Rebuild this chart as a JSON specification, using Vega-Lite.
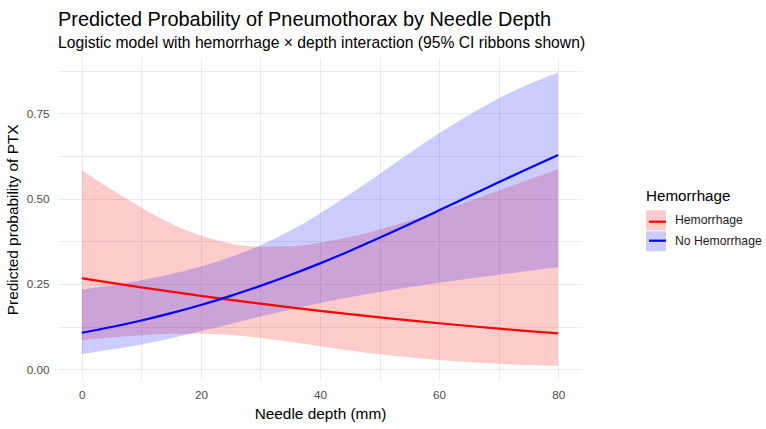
{
  "$schema": "https://vega.github.io/schema/vega-lite/v6.json",
  "width": 524,
  "height": 322.6,
  "autosize": {"type": "none"},
  "padding": {"left": 58, "top": 58, "right": 184, "bottom": 48.4},
  "background": "white",
  "title": {
    "text": "Predicted Probability of Pneumothorax by Needle Depth",
    "subtitle": "Logistic model with hemorrhage × depth interaction (95% CI ribbons shown)",
    "anchor": "start",
    "frame": "group",
    "font": "Liberation Sans",
    "fontSize": 19.9,
    "fontWeight": "normal",
    "color": "#000000",
    "subtitleFont": "Liberation Sans",
    "subtitleFontSize": 15.7,
    "subtitleColor": "#000000",
    "subtitlePadding": 6,
    "offset": 7
  },
  "datasets": {
    "ribbon": [
      {"depth": 0, "group": "Hemorrhage", "lo": 0.0861, "hi": 0.5841},
      {"depth": 5, "group": "Hemorrhage", "lo": 0.0936, "hi": 0.5268},
      {"depth": 10, "group": "Hemorrhage", "lo": 0.0999, "hi": 0.4735},
      {"depth": 15, "group": "Hemorrhage", "lo": 0.1040, "hi": 0.4275},
      {"depth": 20, "group": "Hemorrhage", "lo": 0.1046, "hi": 0.3920},
      {"depth": 25, "group": "Hemorrhage", "lo": 0.1006, "hi": 0.3689},
      {"depth": 30, "group": "Hemorrhage", "lo": 0.0921, "hi": 0.3589},
      {"depth": 35, "group": "Hemorrhage", "lo": 0.0805, "hi": 0.3603},
      {"depth": 40, "group": "Hemorrhage", "lo": 0.0678, "hi": 0.3707},
      {"depth": 45, "group": "Hemorrhage", "lo": 0.0555, "hi": 0.3877},
      {"depth": 50, "group": "Hemorrhage", "lo": 0.0445, "hi": 0.4096},
      {"depth": 55, "group": "Hemorrhage", "lo": 0.0352, "hi": 0.4349},
      {"depth": 60, "group": "Hemorrhage", "lo": 0.0275, "hi": 0.4628},
      {"depth": 65, "group": "Hemorrhage", "lo": 0.0213, "hi": 0.4925},
      {"depth": 70, "group": "Hemorrhage", "lo": 0.0164, "hi": 0.5235},
      {"depth": 75, "group": "Hemorrhage", "lo": 0.0126, "hi": 0.5550},
      {"depth": 80, "group": "Hemorrhage", "lo": 0.0097, "hi": 0.5868},
      {"depth": 0, "group": "No Hemorrhage", "lo": 0.0451, "hi": 0.2336},
      {"depth": 5, "group": "No Hemorrhage", "lo": 0.0578, "hi": 0.2464},
      {"depth": 10, "group": "No Hemorrhage", "lo": 0.0731, "hi": 0.2613},
      {"depth": 15, "group": "No Hemorrhage", "lo": 0.0911, "hi": 0.2791},
      {"depth": 20, "group": "No Hemorrhage", "lo": 0.1114, "hi": 0.3011},
      {"depth": 25, "group": "No Hemorrhage", "lo": 0.1331, "hi": 0.3287},
      {"depth": 30, "group": "No Hemorrhage", "lo": 0.1549, "hi": 0.3634},
      {"depth": 35, "group": "No Hemorrhage", "lo": 0.1756, "hi": 0.4060},
      {"depth": 40, "group": "No Hemorrhage", "lo": 0.1944, "hi": 0.4563},
      {"depth": 45, "group": "No Hemorrhage", "lo": 0.2113, "hi": 0.5126},
      {"depth": 50, "group": "No Hemorrhage", "lo": 0.2265, "hi": 0.5725},
      {"depth": 55, "group": "No Hemorrhage", "lo": 0.2404, "hi": 0.6330},
      {"depth": 60, "group": "No Hemorrhage", "lo": 0.2533, "hi": 0.6913},
      {"depth": 65, "group": "No Hemorrhage", "lo": 0.2654, "hi": 0.7452},
      {"depth": 70, "group": "No Hemorrhage", "lo": 0.2770, "hi": 0.7933},
      {"depth": 75, "group": "No Hemorrhage", "lo": 0.2883, "hi": 0.8347},
      {"depth": 80, "group": "No Hemorrhage", "lo": 0.2993, "hi": 0.8696}
    ],
    "fit": [
      {"depth": 0, "group": "Hemorrhage", "p": 0.2668},
      {"depth": 5, "group": "Hemorrhage", "p": 0.2532},
      {"depth": 10, "group": "Hemorrhage", "p": 0.2401},
      {"depth": 15, "group": "Hemorrhage", "p": 0.2275},
      {"depth": 20, "group": "Hemorrhage", "p": 0.2153},
      {"depth": 25, "group": "Hemorrhage", "p": 0.2036},
      {"depth": 30, "group": "Hemorrhage", "p": 0.1924},
      {"depth": 35, "group": "Hemorrhage", "p": 0.1817},
      {"depth": 40, "group": "Hemorrhage", "p": 0.1714},
      {"depth": 45, "group": "Hemorrhage", "p": 0.1617},
      {"depth": 50, "group": "Hemorrhage", "p": 0.1523},
      {"depth": 55, "group": "Hemorrhage", "p": 0.1434},
      {"depth": 60, "group": "Hemorrhage", "p": 0.1350},
      {"depth": 65, "group": "Hemorrhage", "p": 0.1270},
      {"depth": 70, "group": "Hemorrhage", "p": 0.1193},
      {"depth": 75, "group": "Hemorrhage", "p": 0.1121},
      {"depth": 80, "group": "Hemorrhage", "p": 0.1053},
      {"depth": 0, "group": "No Hemorrhage", "p": 0.1072},
      {"depth": 5, "group": "No Hemorrhage", "p": 0.1240},
      {"depth": 10, "group": "No Hemorrhage", "p": 0.1431},
      {"depth": 15, "group": "No Hemorrhage", "p": 0.1646},
      {"depth": 20, "group": "No Hemorrhage", "p": 0.1886},
      {"depth": 25, "group": "No Hemorrhage", "p": 0.2152},
      {"depth": 30, "group": "No Hemorrhage", "p": 0.2444},
      {"depth": 35, "group": "No Hemorrhage", "p": 0.2762},
      {"depth": 40, "group": "No Hemorrhage", "p": 0.3104},
      {"depth": 45, "group": "No Hemorrhage", "p": 0.3468},
      {"depth": 50, "group": "No Hemorrhage", "p": 0.3851},
      {"depth": 55, "group": "No Hemorrhage", "p": 0.4249},
      {"depth": 60, "group": "No Hemorrhage", "p": 0.4657},
      {"depth": 65, "group": "No Hemorrhage", "p": 0.5069},
      {"depth": 70, "group": "No Hemorrhage", "p": 0.5480},
      {"depth": 75, "group": "No Hemorrhage", "p": 0.5885},
      {"depth": 80, "group": "No Hemorrhage", "p": 0.6279}
    ]
  },
  "config": {
    "view": {"stroke": null},
    "axis": {
      "domain": false,
      "ticks": false,
      "gridColor": "#EBEBEB",
      "gridWidth": 1,
      "labelColor": "#4D4D4D",
      "labelFont": "Liberation Sans",
      "labelFontSize": 11.7,
      "titleFont": "Liberation Sans",
      "titleFontSize": 15.4,
      "titleFontWeight": "normal",
      "titleColor": "#000000",
      "labelOverlap": false,
      "labelFlush": false
    }
  },
  "layer": [
    {
      "data": {"name": "ribbon"},
      "mark": {"type": "area", "fillOpacity": 0.2, "interpolate": "monotone"},
      "encoding": {
        "x": {
          "field": "depth",
          "type": "quantitative",
          "scale": {"domain": [-4, 84], "nice": false, "zero": false},
          "axis": {
            "title": "Needle depth (mm)",
            "values": [0, 10, 20, 30, 40, 50, 60, 70, 80],
            "labelExpr": "datum.value % 20 == 0 ? datum.label : ''",
            "labelPadding": 9,
            "titlePadding": 5
          }
        },
        "y": {
          "field": "lo",
          "type": "quantitative",
          "scale": {"domain": [-0.033, 0.912], "nice": false, "zero": false},
          "axis": {
            "title": "Predicted probability of PTX",
            "values": [0, 0.125, 0.25, 0.375, 0.5, 0.625, 0.75, 0.875],
            "labelExpr": "(datum.value * 4) % 1 == 0 ? format(datum.value, '.2f') : ''",
            "labelPadding": 9,
            "titlePadding": 6
          }
        },
        "y2": {"field": "hi"},
        "fill": {
          "field": "group",
          "type": "nominal",
          "scale": {"range": ["#FF0000", "#0000FF"]},
          "legend": {
            "title": "Hemorrhage",
            "orient": "none",
            "legendX": 588,
            "legendY": 131,
            "padding": 0,
            "symbolType": "square",
            "symbolSize": 400,
            "symbolOpacity": 0.2,
            "symbolStrokeWidth": 0,
            "titleFont": "Liberation Sans",
            "titleFontSize": 15.2,
            "titleFontWeight": "normal",
            "titleColor": "#000000",
            "titlePadding": 6,
            "labelFont": "Liberation Sans",
            "labelFontSize": 12.2,
            "labelColor": "#1A1A1A",
            "labelOffset": 9,
            "rowPadding": 1
          }
        }
      }
    },
    {
      "data": {"name": "fit"},
      "mark": {"type": "line", "strokeWidth": 2.2, "interpolate": "monotone"},
      "encoding": {
        "x": {"field": "depth", "type": "quantitative"},
        "y": {"field": "p", "type": "quantitative"},
        "stroke": {
          "field": "group",
          "type": "nominal",
          "scale": {"range": ["#FF0000", "#0000FF"]},
          "legend": {
            "title": null,
            "orient": "none",
            "legendX": 588,
            "legendY": 152.2,
            "padding": 0,
            "symbolType": "M-0.85,0H0.85",
            "symbolSize": 400,
            "symbolStrokeWidth": 2.2,
            "symbolFillColor": "transparent",
            "labelExpr": "''",
            "labelFontSize": 12.2,
            "labelOffset": 9,
            "rowPadding": 1
          }
        }
      }
    }
  ]
}
